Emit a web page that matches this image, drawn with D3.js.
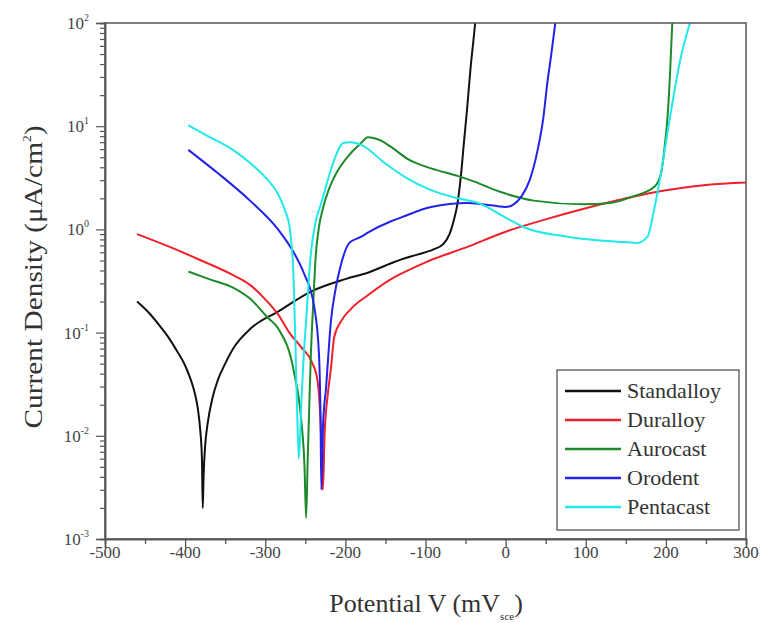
<!DOCTYPE html>
<meta charset="utf-8">
<script src="https://d3js.org/d3.v7.min.js"></script>
<style>
  body { margin: 0; background: #fff; }
  text { font-family: "Liberation Serif", "Times New Roman", serif; }
</style>
<div id="my_dataviz"></div>
<script>

// series data: [potential mV, current density uA/cm2]
var standalloy = [[-460,0.20],[-445,0.155],[-430,0.112],[-420,0.088],[-410,0.066],[-400,0.048],[-393,0.035],
  [-388,0.026],[-384,0.018],[-381,0.011],[-379,0.006],[-378,0.002],[-377,0.004],[-375,0.008],[-372,0.013],
  [-366,0.023],[-359,0.035],[-350,0.05],[-339,0.072],[-318,0.11],[-284,0.16],[-243,0.25],[-200,0.33],
  [-172,0.38],[-143,0.47],[-131,0.51],[-110,0.57],[-90,0.64],[-78,0.72],[-70,0.9],[-65,1.2],[-60,1.8],
  [-56,3.2],[-52,7],[-48,15],[-44,35],[-40,70],[-38,100]];
var duralloy = [[-460,0.9],[-420,0.68],[-380,0.5],[-340,0.36],[-319,0.29],[-300,0.21],[-284,0.15],[-270,0.1],
  [-255,0.072],[-242,0.052],[-235,0.035],[-231,0.014],[-228,0.003],[-226,0.01],[-222,0.025],[-218,0.045],
  [-214,0.09],[-205,0.13],[-193,0.17],[-172,0.23],[-143,0.33],[-131,0.37],[-100,0.48],[-47,0.68],[0,0.95],
  [50,1.25],[100,1.6],[150,2.0],[200,2.4],[250,2.7],[300,2.85]];
var aurocast = [[-396,0.39],[-370,0.33],[-339,0.27],[-318,0.21],[-297,0.14],[-284,0.11],[-264,0.041],
  [-255,0.014],[-251,0.005],[-249,0.0016],[-247,0.006],[-245,0.02],[-243,0.063],[-240,0.2],[-237,0.55],
  [-233,1.05],[-228,1.6],[-221,2.4],[-214,3.2],[-193,5.5],[-180,6.9],[-172,7.8],[-165,7.7],[-155,7.2],
  [-143,6.3],[-122,4.8],[-93,3.9],[-60,3.3],[-39,2.9],[-6,2.3],[35,1.9],[97,1.75],[130,1.8],[160,2.1],
  [186,2.6],[194,3.5],[198,5.9],[202,12],[205,30],[208,100]];
var orodent = [[-396,5.9],[-359,3.5],[-319,1.9],[-284,1.0],[-264,0.59],[-252,0.38],[-239,0.18],[-233,0.063],
  [-231,0.015],[-230,0.003],[-228,0.012],[-224,0.03],[-218,0.13],[-212,0.27],[-207,0.41],[-195,0.74],
  [-180,0.85],[-172,0.93],[-143,1.2],[-131,1.3],[-93,1.65],[-47,1.8],[-15,1.7],[0,1.65],[10,1.75],[20,2.1],
  [30,3],[40,5.9],[47,12],[52,26],[57,50],[62,100]];
var pentacast = [[-396,10.2],[-370,7.9],[-339,5.8],[-319,4.4],[-300,3.2],[-284,2.2],[-275,1.5],[-270,1.1],
  [-267,0.7],[-265,0.4],[-263,0.12],[-262,0.06],[-260,0.015],[-258,0.006],[-255,0.02],[-252,0.06],[-249,0.13],
  [-246,0.3],[-243,0.59],[-237,1.2],[-230,1.8],[-222,3.0],[-214,4.7],[-202,6.9],[-193,7.0],[-180,6.6],
  [-151,4.4],[-125,3.2],[-93,2.4],[-60,2.0],[-34,1.8],[0,1.3],[23,1.05],[77,0.85],[139,0.76],[164,0.74],
  [177,0.85],[186,1.65],[193,3.2],[205,12],[218,44],[230,100]];

var names = ["Standalloy", "Duralloy", "Aurocast", "Orodent", "Pentacast"];
var colors = ["#111111", "#f0202a", "#1c8a2a", "#2222e8", "#22e8e8"];
var seriesList = [standalloy, duralloy, aurocast, orodent, pentacast];

var xTicks = [-500,-400,-300,-200,-100,0,100,200,300];
var yExps = [-3,-2,-1,0,1,2];

var svg = d3.select("#my_dataviz")
  .append("svg")
    .attr("width", 762)
    .attr("height", 623);

var x = d3.scaleLinear().domain([-500, 300]).range([105, 746]);
var y = d3.scaleLog().domain([1e-3, 1e2]).range([539, 23]);

svg.append("clipPath").attr("id", "plotclip")
  .append("rect")
    .attr("x", x(-500)).attr("y", y(100))
    .attr("width", x(300) - x(-500)).attr("height", y(1e-3) - y(100));

// curves
var line = d3.line()
  .x(function(d){ return x(d[0]) })
  .y(function(d){ return y(d[1]) })
  .curve(d3.curveMonotoneX);

svg.append("g").attr("clip-path", "url(#plotclip)")
  .selectAll("path")
  .data(seriesList)
  .enter()
  .append("path")
    .attr("d", line)
    .attr("fill", "none")
    .attr("stroke", function(d,i){ return colors[i] })
    .attr("stroke-width", 2);

// frame
svg.append("rect")
  .attr("x", x(-500)).attr("y", y(100))
  .attr("width", x(300) - x(-500)).attr("height", y(1e-3) - y(100))
  .attr("fill", "none")
  .attr("stroke", "#555")
  .attr("stroke-width", 1.5);

// X axis
var minorX = d3.range(-450, 300, 100);
var xAxis = svg.append("g").attr("transform", "translate(0," + y(1e-3) + ")");
xAxis.call(d3.axisBottom(x).tickValues(xTicks).tickSize(9).tickFormat(""));
xAxis.append("g").call(d3.axisBottom(x).tickValues(minorX).tickSize(5).tickFormat(""));
xAxis.selectAll("path.domain").attr("stroke", "#555").attr("stroke-width", 1.5);
xAxis.selectAll(".tick line").attr("stroke", "#555").attr("stroke-width", 1.3);

svg.selectAll("xlabels")
  .data(xTicks)
  .enter()
  .append("text")
    .attr("x", function(d){ return x(d) })
    .attr("y", 558)
    .attr("text-anchor", "middle")
    .style("font-size", "17px")
    .style("fill", "#444")
    .text(function(d){ return d });

// Y axis
var minorY = [];
yExps.slice(0, -1).forEach(function(e){
  for (var k = 2; k <= 9; k++) minorY.push(k * Math.pow(10, e));
});
var yAxis = svg.append("g").attr("transform", "translate(" + x(-500) + ",0)");
yAxis.call(d3.axisLeft(y).tickValues(yExps.map(function(e){ return Math.pow(10, e) })).tickSize(9).tickFormat(""));
yAxis.append("g").call(d3.axisLeft(y).tickValues(minorY).tickSize(5).tickFormat(""));
yAxis.selectAll("path.domain").attr("stroke", "#555").attr("stroke-width", 1.5);
yAxis.selectAll(".tick line").attr("stroke", "#555").attr("stroke-width", 1.2);

var ylab = svg.selectAll("ylabels")
  .data(yExps)
  .enter()
  .append("text")
    .attr("x", 89)
    .attr("y", function(d){ return y(Math.pow(10, d)) + 6 })
    .attr("text-anchor", "end")
    .style("font-size", "17px")
    .style("fill", "#444");
ylab.append("tspan").text("10");
ylab.append("tspan")
    .attr("dy", -8)
    .style("font-size", "10px")
    .text(function(d){ return d });

// axis titles
var xt = svg.append("text")
    .attr("x", 426)
    .attr("y", 612)
    .attr("text-anchor", "middle")
    .style("font-size", "26px")
    .style("fill", "#333");
xt.append("tspan").text("Potential V (mV");
xt.append("tspan").attr("dy", 8).style("font-size", "11px").text("sce");
xt.append("tspan").attr("dy", -8).text(")");

var yt = svg.append("text")
    .attr("transform", "translate(42,277) rotate(-90) scale(1.13,1)")
    .attr("text-anchor", "middle")
    .style("font-size", "26px")
    .style("fill", "#333");
yt.append("tspan").text("Current Density  (\u03bcA/cm");
yt.append("tspan").attr("dy", -11).style("font-size", "12px").text("2");
yt.append("tspan").attr("dy", 11).text(")");

// legend
svg.append("rect")
  .attr("x", 557).attr("y", 370)
  .attr("width", 182).attr("height", 160)
  .attr("fill", "#fff")
  .attr("stroke", "#555")
  .attr("stroke-width", 1.3);

var legend = svg.selectAll("legitems")
  .data(names)
  .enter()
  .append("g")
    .attr("transform", function(d,i){ return "translate(0," + (391 + i * 29) + ")" });
legend.append("line")
    .attr("x1", 565).attr("x2", 621)
    .attr("y1", 0).attr("y2", 0)
    .attr("stroke", function(d,i){ return colors[i] })
    .attr("stroke-width", 2.5);
legend.append("text")
    .attr("x", 627)
    .attr("y", 7)
    .style("font-size", "22px")
    .style("fill", "#333")
    .text(function(d){ return d });

</script>
